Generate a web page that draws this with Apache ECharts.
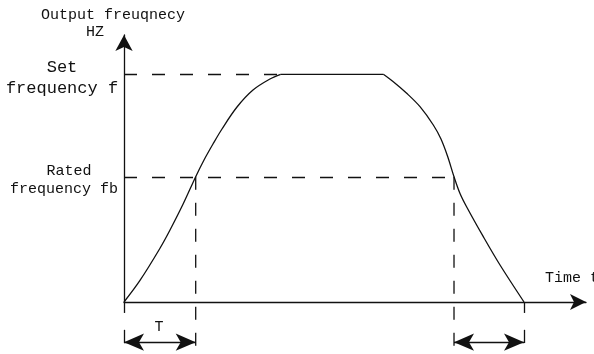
<!DOCTYPE html>
<html>
<head>
<meta charset="utf-8">
<script src="https://cdn.jsdelivr.net/npm/echarts@6/dist/echarts.min.js"></script>
<style>
html,body{margin:0;padding:0;background:#fff;}
#main{width:594px;height:354px;}
</style>
</head>
<body>
<div id="main"></div>
<script>
// curve (x: time units 0..100, y: frequency, set f = 50)
var riseX = [0, 3.46, 7.79, 9.96, 12.77, 15.52, 17.32, 19.26, 21.21, 24.46, 27.92, 31.6, 33.92];
var riseY = [0, 4.74, 11.81, 15.81, 21.45, 27.51, 31.18, 34.69, 37.99, 42.82, 46.55, 48.97, 50];
var flatX = [33.92, 56.13];
var flatY = [50, 50];
var fallX = [56.13, 58.29, 61.19, 64.07, 66.95, 68.61, 70.02, 71.43, 72.73, 74.18, 77.77, 81.39, 86.58];
var fallY = [50, 48.37, 45.83, 42.89, 38.87, 35.79, 32.06, 27.51, 23.83, 20.86, 14.34, 8.12, 0];

var setFreq = 50;
var ratedFreq = 27.5;
var tRated = 15.52;   // rise reaches fb
var tFlat = 33.92;    // rise reaches f
var tDown = 71.43;    // fall reaches fb
var tEnd = 86.58;     // fall reaches 0
var below = -11.4;    // lower edge of the picture, under the time axis

var labels = {
    yTitle: 'Output freuqnecy',
    yUnit: 'HZ',
    setTop: 'Set',
    setBottom: 'frequency f',
    ratedTop: 'Rated',
    ratedBottom: 'frequency fb',
    xTitle: 'Time t',
    period: 'T'
};

var FONT = 'Liberation Mono';
var INK = '#111';

function zip(xs, ys){
    var out = [];
    for (var i = 0; i < xs.length; i++) { out.push([xs[i], ys[i]]); }
    return out;
}

function seg(x1, y1, x2, y2){
    return [{coord: [x1, y1]}, {coord: [x2, y2]}];
}

function txt(s, x, y, size, align){
    return {type: 'text', style: {text: s, x: x, y: y, font: size + 'px "' + FONT + '"',
        fill: INK, textAlign: align || 'center', textVerticalAlign: 'middle'}};
}

var myChart = echarts.init(document.getElementById('main'), null, {renderer: 'canvas'});

var hidden = {
    type: 'value', show: false,
    axisTick: {show: false}, axisLabel: {show: false}, splitLine: {show: false}
};

var option = {
    backgroundColor: '#fff',
    animation: false,
    grid: [
        {left: 124, right: 8, top: 35, bottom: 52},
        {left: 124, right: 8, top: 302, bottom: 0}
    ],
    xAxis: [
        {
            type: 'value', gridIndex: 0, min: 0, max: 100,
            axisTick: {show: false}, axisLabel: {show: false}, splitLine: {show: false},
            axisLine: {show: true, symbol: ['none', 'arrow'], symbolSize: [12, 16],
                lineStyle: {color: INK, width: 1.3}}
        },
        Object.assign({}, hidden, {gridIndex: 1, min: 0, max: 100})
    ],
    yAxis: [
        {
            type: 'value', gridIndex: 0, min: 0, max: 58.63,
            axisTick: {show: false}, axisLabel: {show: false}, splitLine: {show: false},
            axisLine: {show: true, symbol: ['none', 'arrow'], symbolSize: [13, 16],
                lineStyle: {color: INK, width: 1.3}}
        },
        Object.assign({}, hidden, {gridIndex: 1, min: below, max: 0})
    ],
    graphic: [
        txt(labels.yTitle, 113, 15, 15),
        txt(labels.yUnit, 95, 32, 15),
        txt(labels.setTop, 62, 67, 17),
        txt(labels.setBottom, 62, 88, 17),
        txt(labels.ratedTop, 69, 171, 15),
        txt(labels.ratedBottom, 64, 189, 15),
        txt(labels.xTitle, 545, 278, 15, 'left'),
        txt(labels.period, 159, 327, 15)
    ],
    series: [
        {
            name: 'rise', type: 'line', smooth: 0.35, symbol: 'none',
            lineStyle: {color: INK, width: 1.3},
            data: zip(riseX, riseY)
        },
        {
            name: 'flat', type: 'line', symbol: 'none',
            lineStyle: {color: INK, width: 1.3},
            data: zip(flatX, flatY)
        },
        {
            name: 'fall', type: 'line', smooth: 0.35, symbol: 'none',
            lineStyle: {color: INK, width: 1.3},
            data: zip(fallX, fallY)
        },
        {
            // dashed guides at f and fb
            name: 'guides', type: 'line', data: [],
            markLine: {
                silent: true, symbol: ['none', 'none'], label: {show: false},
                lineStyle: {color: INK, width: 1.3, type: [13, 15]},
                data: [
                    seg(0, setFreq, tFlat, setFreq),
                    seg(0, ratedFreq, tDown, ratedFreq)
                ]
            }
        },
        {
            name: 'dropA', type: 'line', symbol: 'none', clip: false,
            lineStyle: {color: INK, width: 1.3, type: [13, 13]},
            data: [[tRated, ratedFreq], [tRated, below]]
        },
        {
            name: 'dropB', type: 'line', symbol: 'none', clip: false,
            lineStyle: {color: INK, width: 1.3, type: [13, 13]},
            data: [[tDown, ratedFreq], [tDown, below]]
        },
        {
            // solid ticks below the time axis
            name: 'ticks', type: 'line', data: [], xAxisIndex: 1, yAxisIndex: 1,
            markLine: {
                silent: true, symbol: ['none', 'none'], label: {show: false},
                lineStyle: {color: INK, width: 1.3, type: 'solid'},
                data: [
                    seg(0, 0, 0, -2.4),
                    seg(tEnd, 0, tEnd, -2.4),
                    seg(0, -6.1, 0, -9.0),
                    seg(tEnd, -6.1, tEnd, -9.0)
                ]
            }
        },
        {
            // span arrows
            name: 'spans', type: 'line', data: [], xAxisIndex: 1, yAxisIndex: 1,
            markLine: {
                silent: true, symbol: ['arrow', 'arrow'], symbolSize: [13, 20],
                label: {show: false},
                lineStyle: {color: INK, width: 1.3, type: 'solid'},
                data: [
                    seg(0, -8.8, tRated, -8.8),
                    seg(tDown, -8.8, tEnd, -8.8)
                ]
            }
        }
    ]
};

myChart.setOption(option, true);
</script>
</body>
</html>
